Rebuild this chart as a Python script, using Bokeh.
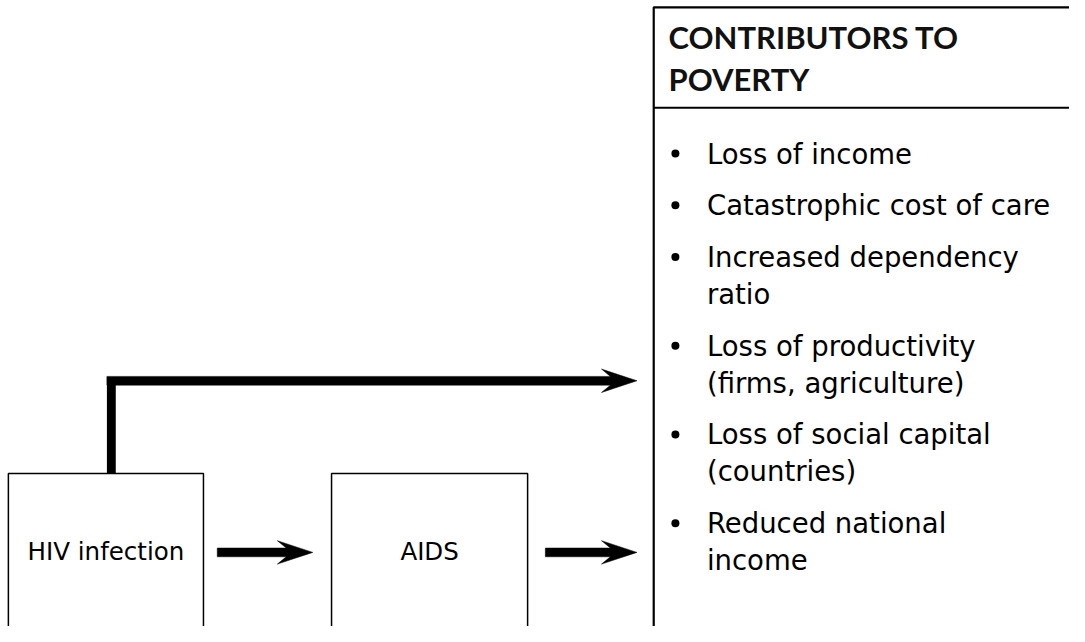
from bokeh.plotting import figure
from bokeh.models import Range1d
from bokeh.core.properties import value
from bokeh.embed import file_html
from bokeh.resources import INLINE

# ---- content ----
box_labels = ["HIV infection", "AIDS"]
header_lines = ["CONTRIBUTORS TO", "POVERTY"]
bullet_items = [
    ["Loss of income"],
    ["Catastrophic cost of care"],
    ["Increased dependency", "ratio"],
    ["Loss of productivity", "(firms, agriculture)"],
    ["Loss of social capital", "(countries)"],
    ["Reduced national", "income"],
]

BODY = "DejaVu Sans"
HEAD = "Lato"
W, H = 1069, 626
p = figure(width=W, height=H, output_backend="svg", toolbar_location=None,
           x_range=Range1d(0, 1085), y_range=Range1d(642, 0), min_border=0)
p.axis.visible = False
p.grid.visible = False
p.outline_line_color = None
p.background_fill_color = "white"
p.border_fill_color = "white"

# boxes for the two stages
box_l = [8, 336]
box_r = [206, 535]
p.quad(left=box_l, right=box_r, top=[485, 485], bottom=[700, 700],
       fill_color=None, line_color="black", line_width=1.5)

# right panel
p.quad(left=[663], right=[1200], top=[7], bottom=[700],
       fill_color=None, line_color="black", line_width=2.2)
p.segment(x0=[663], y0=[110], x1=[1200], y1=[110], line_color="black", line_width=2.2)

# labels in boxes
p.text(x=[(a + b) / 2 for a, b in zip(box_l, box_r)], y=[565, 565], text=box_labels,
       text_font=value(BODY), text_font_size="24.5px",
       text_align="center", text_baseline="middle", text_color="black")

# header
p.text(x=[678, 678], y=[37, 80], text=header_lines, text_font=value(HEAD),
       text_font_size="31px", text_font_style="bold", text_align="left",
       text_baseline="middle", text_color="#111111")

# bullets (y = visual centre of each line)
bx, by, tx, ty, tt = [], [], [], [], []
y = 157
for item in bullet_items:
    bx.append(685); by.append(y)
    for j, line in enumerate(item):
        tx.append(717); ty.append(y + j * 38); tt.append(line)
    y += 38 * (len(item) - 1) + 53
p.scatter(x=bx, y=by, size=8, marker="circle", fill_color="black", line_color=None)
p.text(x=tx, y=ty, text=tt, text_font=value(BODY), text_font_size="27.5px",
       text_align="left", text_baseline="middle", text_color="black")

# arrows: shaft + concave head as one polygon
SHAFT = 9
HEAD_LEN, HEAD_W, NOTCH = 36, 24, 9

def arrow_poly(x0, x1, yc):
    hb = x1 - HEAD_LEN
    xs = [x0, hb + NOTCH, hb, x1, hb, hb + NOTCH, x0]
    ys = [yc - SHAFT / 2, yc - SHAFT / 2, yc - HEAD_W / 2, yc, yc + HEAD_W / 2,
          yc + SHAFT / 2, yc + SHAFT / 2]
    return xs, ys

arrows = [(108, 646, 390), (220, 317, 566), (553, 646, 566)]
pxs, pys = [], []
for x0, x1, yc in arrows:
    a, b = arrow_poly(x0, x1, yc)
    pxs.append(a); pys.append(b)
p.patches(xs=pxs, ys=pys, fill_color="black", line_color="black", line_width=0.5)

# vertical connector from HIV box up to the top arrow
p.quad(left=[108], right=[117], top=[386], bottom=[485], fill_color="black",
       line_color=None)

open("out.html", "w").write(file_html(p, INLINE))
